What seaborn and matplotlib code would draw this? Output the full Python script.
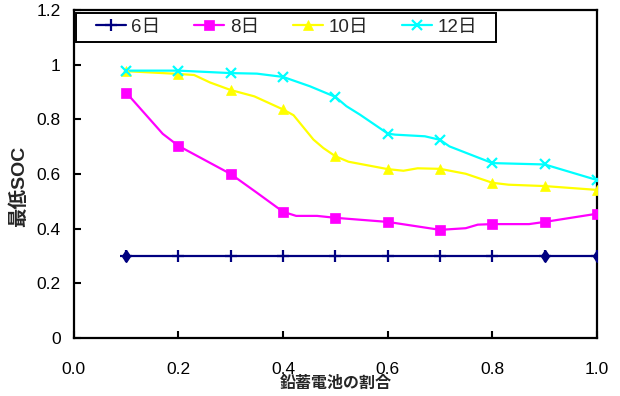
import numpy as np
import pandas as pd
import matplotlib
matplotlib.use("Agg")
import matplotlib.pyplot as plt
from matplotlib.lines import Line2D
from matplotlib.patches import Rectangle
import seaborn as sns

# Share of lead-acid battery (marker positions)
ratio = [0.1, 0.2, 0.3, 0.4, 0.5, 0.6, 0.7, 0.8, 0.9, 1.0]

# Minimum SOC along each curve (path points, markers sit on the 0.1 steps)
path_x_6 = [0.1, 0.2, 0.3, 0.4, 0.5, 0.6, 0.7, 0.8, 0.9, 1.0]
path_soc_6 = [0.30, 0.30, 0.30, 0.30, 0.30, 0.30, 0.30, 0.30, 0.30, 0.30]

path_x_8 = [0.1, 0.17, 0.2, 0.3, 0.349, 0.4, 0.425, 0.465, 0.5, 0.6, 0.7,
            0.749, 0.772, 0.8, 0.87, 0.9, 1.0]
path_soc_8 = [0.898, 0.747, 0.703, 0.600, 0.533, 0.462, 0.447, 0.447, 0.440,
              0.425, 0.396, 0.402, 0.415, 0.417, 0.417, 0.425, 0.455]

path_x_10 = [0.1, 0.2, 0.23, 0.26, 0.3, 0.345, 0.4, 0.42, 0.458, 0.477, 0.5,
             0.525, 0.6, 0.63, 0.657, 0.7, 0.749, 0.8, 0.831, 0.9, 1.0]
path_soc_10 = [0.976, 0.966, 0.962, 0.935, 0.907, 0.884, 0.836, 0.815, 0.726,
               0.695, 0.665, 0.645, 0.618, 0.612, 0.621, 0.619, 0.601, 0.568,
               0.561, 0.556, 0.542]

path_x_12 = [0.1, 0.2, 0.3, 0.35, 0.4, 0.451, 0.5, 0.521, 0.547, 0.6, 0.614,
             0.671, 0.7, 0.718, 0.8, 0.9, 1.0]
path_soc_12 = [0.978, 0.978, 0.969, 0.967, 0.955, 0.921, 0.882, 0.848, 0.817,
               0.748, 0.744, 0.738, 0.725, 0.701, 0.640, 0.635, 0.578]

series_names = ["6日", "8日", "10日", "12日"]
x_ticks = [0.0, 0.2, 0.4, 0.6, 0.8, 1.0]
x_tick_labels = ["0.0", "0.2", "0.4", "0.6", "0.8", "1.0"]
y_ticks = [0, 0.2, 0.4, 0.6, 0.8, 1.0, 1.2]
y_tick_labels = ["0", "0.2", "0.4", "0.6", "0.8", "1", "1.2"]

sns.set_theme(style="white")
plt.rcParams["font.family"] = ["Liberation Sans", "Noto Sans CJK JP", "DejaVu Sans"]

fig = plt.figure(figsize=(6.2, 3.96), dpi=100)
ax = fig.add_axes([0.119, 0.146, 0.844, 0.829])

styles = {
    "6日": dict(color="#000080", marker="+", ms=8, mew=1.6),
    "8日": dict(color="#FF00FF", marker="s", ms=6.5, mew=0.5),
    "10日": dict(color="#FFFF00", marker="^", ms=7.5, mew=0.5),
    "12日": dict(color="#00FFFF", marker="x", ms=7, mew=1.6),
}

paths = {
    "6日": (path_x_6, path_soc_6),
    "8日": (path_x_8, path_soc_8),
    "10日": (path_x_10, path_soc_10),
    "12日": (path_x_12, path_soc_12),
}

frames = []
for name in series_names:
    px, py = paths[name]
    frames.append(pd.DataFrame({"ratio": px, "soc": py, "series": name}))
data = pd.concat(frames, ignore_index=True)
on_step = data["ratio"].round(6).isin([round(r, 6) for r in ratio])

palette = {n: styles[n]["color"] for n in series_names}
sns.lineplot(data=data, x="ratio", y="soc", hue="series", hue_order=series_names,
             palette=palette, linewidth=1.6, sort=False, estimator=None,
             legend=False, ax=ax, zorder=2)

# markers on the 0.1 steps only
for name in series_names:
    sub = data[(data["series"] == name) & on_step]
    st = styles[name]
    ax.plot(sub["ratio"], sub["soc"], linestyle="none", marker=st["marker"],
            ms=st["ms"], mew=st["mew"], color=st["color"], mec=st["color"],
            zorder=3)

# a few of the 6日 points show as small diamonds
d6 = data[(data["series"] == "6日") & data["ratio"].round(6).isin([0.1, 0.9, 1.0])]
ax.plot(d6["ratio"], d6["soc"], linestyle="none", marker="d", ms=6,
        color="#000080", zorder=3)

ax.set_xlim(0, 1.0)
ax.set_ylim(0, 1.2)
ax.set_xticks(x_ticks)
ax.set_xticklabels(x_tick_labels)
ax.set_yticks(y_ticks)
ax.set_yticklabels(y_tick_labels)
ax.tick_params(axis="x", direction="in", length=5, width=1.5, pad=17,
               labelsize=12.5, colors="black", bottom=True)
ax.tick_params(axis="y", direction="in", length=5, width=1.5, pad=9.5,
               labelsize=12.5, colors="black", left=True)
for sp in ax.spines.values():
    sp.set_visible(True)
    sp.set_color("black")
    sp.set_linewidth(1.6)
ax.grid(False)

ax.set_xlabel("鉛蓄電池の割合", fontsize=11.5, fontweight="bold")
ax.xaxis.set_label_coords(0.5, -0.116)
ax.set_ylabel("最低SOC", fontsize=14, fontweight="bold")
ax.yaxis.set_label_coords(-0.088, 0.463)

# legend entries in one row, with a plain black box around them
handles = []
for name in series_names:
    st = styles[name]
    handles.append(Line2D([], [], color=st["color"], linewidth=1.6,
                          marker=st["marker"], ms=st["ms"], mew=st["mew"],
                          mec=st["color"]))
leg = ax.legend(handles, series_names, loc="center left", ncol=4,
                bbox_to_anchor=(0.042, 0.947), frameon=False, fontsize=13.5,
                handlelength=1.6, handletextpad=0.3, columnspacing=1.8,
                borderpad=0.0, borderaxespad=0.0)
ax.add_patch(Rectangle((0.004, 0.902), 0.803, 0.089, transform=ax.transAxes,
                       fill=True, facecolor="white", edgecolor="black",
                       linewidth=1.4, zorder=4))
leg.set_zorder(5)

fig.savefig("out.png", dpi=100)
